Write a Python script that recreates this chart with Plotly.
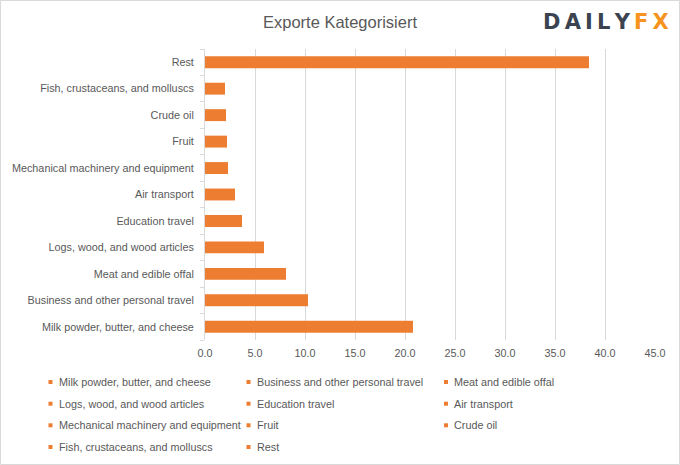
import plotly.graph_objects as go

categories = [
    "Milk powder, butter, and cheese",
    "Business and other personal travel",
    "Meat and edible offal",
    "Logs, wood, and wood articles",
    "Education travel",
    "Air transport",
    "Mechanical machinery and equipment",
    "Fruit",
    "Crude oil",
    "Fish, crustaceans, and molluscs",
    "Rest",
]
values = [20.8, 10.3, 8.1, 5.9, 3.7, 3.0, 2.3, 2.2, 2.1, 2.0, 38.4]

ORANGE = "#ED7D31"
GRAY = "#595959"
GRID = "#D9D9D9"
FONT = "Liberation Sans"
FS = 10.8

W, H = 680, 465
ML, MR, MT, MB = 205, 25, 49, 125
PW, PH = W - ML - MR, H - MT - MB


def px_x(px):
    return (px - ML) / PW


def px_y(py):
    return (H - MB - py) / PH


fig = go.Figure()
fig.add_trace(go.Bar(
    x=values, y=categories, orientation="h",
    marker=dict(color=ORANGE, line=dict(width=0)),
    width=0.45, showlegend=False, hoverinfo="x+y",
))

fig.update_layout(
    width=W, height=H,
    margin=dict(l=ML, r=MR, t=MT, b=MB, autoexpand=False),
    paper_bgcolor="white", plot_bgcolor="white",
    font=dict(family=FONT, size=FS, color=GRAY),
    title=dict(text="Exporte Kategorisiert", x=0.5, xref="container", xanchor="center",
               y=1 - 22 / H, yref="container", yanchor="middle",
               font=dict(size=16.5, color=GRAY, family=FONT)),
    xaxis=dict(range=[0, 45], dtick=5, tick0=0, tickformat=".1f",
               showgrid=True, gridcolor=GRID, gridwidth=1,
               zeroline=False, showline=False, ticks="",
               ticklabelstandoff=5,
               tickfont=dict(size=FS, color=GRAY), fixedrange=True),
    yaxis=dict(type="category", categoryorder="array", categoryarray=categories,
               range=[-0.5, len(categories) - 0.5],
               showline=True, linecolor=GRID, linewidth=1,
               ticks="outside", tickson="boundaries", ticklen=4, tickcolor=GRID,
               showgrid=False, tickfont=dict(size=FS, color=GRAY),
               ticklabelstandoff=8, fixedrange=True),
    showlegend=False,
)

# Legend laid out like the original: 3 columns, row-major order
col_marker = [50.5, 248.5, 446]
col_text = [57, 255, 452]
row_y = [382, 403.7, 425.3, 447]
for i, name in enumerate(categories):
    r, c = divmod(i, 3)
    xm, yc = col_marker[c], row_y[r]
    fig.add_shape(
        type="rect", xref="paper", yref="paper",
        x0=px_x(xm - 2), x1=px_x(xm + 2), y0=px_y(yc + 2), y1=px_y(yc - 2),
        line=dict(width=0), fillcolor=ORANGE,
    )
    fig.add_annotation(
        xref="paper", yref="paper", x=px_x(col_text[c]), y=px_y(yc),
        text=name, showarrow=False, xanchor="left", yanchor="middle",
        font=dict(size=FS, color=GRAY, family=FONT),
    )

fig.add_annotation(
    xref="paper", yref="paper",
    x=px_x(606), y=px_y(22),
    text="<b>D\u2009A\u2009I\u2009L\u2009Y</b><b><span style='color:#F7931E'>\u2009F\u2009X</span></b>",
    showarrow=False, xanchor="center", yanchor="middle",
    font=dict(family="DejaVu Sans", size=21, color="#3B4350"),
)

fig.add_shape(
    type="rect", xref="paper", yref="paper",
    x0=px_x(0.5), x1=px_x(W - 0.5),
    y0=px_y(H - 0.5), y1=px_y(0.5),
    line=dict(color=GRID, width=1), fillcolor="rgba(0,0,0,0)", layer="below",
)

fig.write_html(
    "out.html",
    config={"displayModeBar": False},
    post_script="document.body.style.margin='0';document.body.style.padding='0';",
)
